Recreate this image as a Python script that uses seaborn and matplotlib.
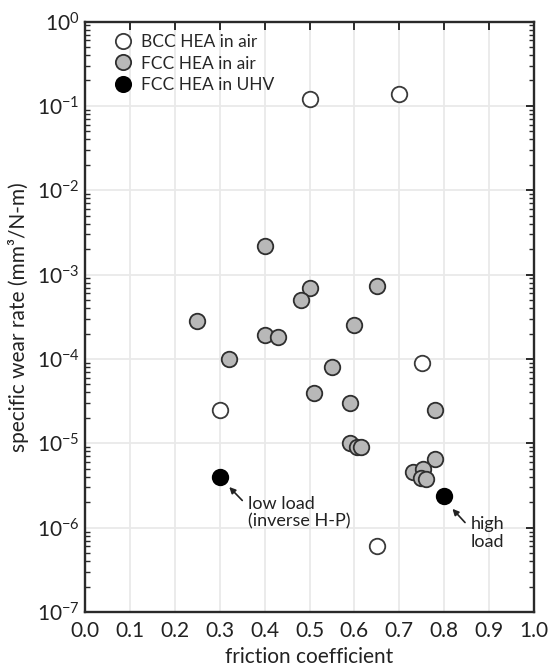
import numpy as np
import pandas as pd
import matplotlib
matplotlib.use("Agg")
import matplotlib.pyplot as plt
import seaborn as sns
from matplotlib.ticker import LogLocator, FixedLocator, NullFormatter
from matplotlib.lines import Line2D

# ---- data ----
categories = ["BCC HEA in air", "FCC HEA in air", "FCC HEA in UHV"]

bcc_air_mu = [0.50, 0.70, 0.75, 0.30, 0.65]
bcc_air_wear = [0.12, 0.14, 9.0e-5, 2.5e-5, 6.0e-7]

fcc_air_mu = [0.40, 0.50, 0.48, 0.65, 0.25, 0.40, 0.43, 0.60, 0.32, 0.55,
              0.51, 0.59, 0.78, 0.59, 0.605, 0.615, 0.78, 0.73, 0.753, 0.748, 0.761]
fcc_air_wear = [2.2e-3, 7.0e-4, 5.0e-4, 7.3e-4, 2.8e-4, 1.9e-4, 1.8e-4, 2.5e-4, 1.0e-4, 8.0e-5,
                3.9e-5, 3.0e-5, 2.5e-5, 1.0e-5, 9.0e-6, 9.0e-6, 6.6e-6, 4.6e-6, 5.0e-6, 3.9e-6, 3.8e-6]

fcc_uhv_mu = [0.30, 0.80]
fcc_uhv_wear = [4.0e-6, 2.35e-6]

x_ticks = [0.0, 0.1, 0.2, 0.3, 0.4, 0.5, 0.6, 0.7, 0.8, 0.9, 1.0]
x_ticklabels = ["0.0", "0.1", "0.2", "0.3", "0.4", "0.5", "0.6", "0.7", "0.8", "0.9", "1.0"]
y_exponents = [0, -1, -2, -3, -4, -5, -6, -7]

df = pd.DataFrame({
    "mu": bcc_air_mu + fcc_air_mu + fcc_uhv_mu,
    "wear": bcc_air_wear + fcc_air_wear + fcc_uhv_wear,
    "cat": [categories[0]] * len(bcc_air_mu) + [categories[1]] * len(fcc_air_mu)
           + [categories[2]] * len(fcc_uhv_mu),
})

# ---- style ----
sns.set_style("white")
plt.rcParams["font.family"] = ["Lato", "DejaVu Sans"]
plt.rcParams["mathtext.fontset"] = "custom"
plt.rcParams["mathtext.rm"] = "Lato"
plt.rcParams["mathtext.it"] = "Lato:italic"
plt.rcParams["mathtext.bf"] = "Lato:bold"

TXT = "#222222"
fig = plt.figure(figsize=(5.48, 6.67), dpi=100)
ax = fig.add_axes([85.4 / 548, 1 - 612 / 667, (533.6 - 85.4) / 548, (612 - 21.5) / 667])

palette = {categories[0]: "white", categories[1]: "#b8b8b8", categories[2]: "black"}
edges = {categories[0]: "#3a3a3a", categories[1]: "#2e2e2e", categories[2]: "black"}

for c in categories:
    sub = df[df["cat"] == c]
    sns.scatterplot(data=sub, x="mu", y="wear", ax=ax, color=palette[c],
                    edgecolor=edges[c], linewidth=1.3, s=125, zorder=3,
                    legend=False)

ax.set_yscale("log")
ax.set_xlim(0.0, 1.0)
ax.set_ylim(1e-7, 1e0)

ax.xaxis.set_major_locator(FixedLocator(x_ticks))
ax.set_xticklabels(x_ticklabels)
ax.yaxis.set_major_locator(FixedLocator([10.0 ** e for e in y_exponents]))
ax.set_yticklabels([rf"$10^{{{e}}}$" for e in y_exponents])
ax.yaxis.set_minor_locator(LogLocator(base=10, subs=np.arange(2, 10), numticks=20))
ax.yaxis.set_minor_formatter(NullFormatter())

ax.grid(True, which="major", color="#e9e9e9", linewidth=1.3, zorder=0)
ax.set_axisbelow(True)

for sp in ax.spines.values():
    sp.set_color("#2a2a2a")
    sp.set_linewidth(1.7)

ax.tick_params(axis="both", which="major", direction="in", length=6, width=1.4,
               top=True, right=True, labelsize=15, colors="#2a2a2a",
               labelcolor=TXT, pad=4)
ax.tick_params(axis="x", which="major", pad=6.5)
ax.tick_params(axis="y", which="minor", direction="in", length=3.5, width=1.0,
               left=True, right=True, colors="#2a2a2a")

ax.set_xlabel("friction coefficient", fontsize=15, color=TXT, labelpad=4)
ax.set_ylabel("specific wear rate (mm³/N-m)", fontsize=15, color=TXT, labelpad=6)

# legend
handles = [Line2D([], [], marker="o", linestyle="none", markersize=11,
                  markerfacecolor=palette[c], markeredgecolor=edges[c],
                  markeredgewidth=1.3) for c in categories]
ax.legend(handles, categories, loc="upper left", frameon=False, fontsize=12.5,
          handletextpad=0.0, labelspacing=0.3, borderaxespad=0.0,
          bbox_to_anchor=(0.03, 0.99))

# annotations
ax.annotate("", xy=(0.321, 3.03e-6), xytext=(0.35, 2.1e-6),
            arrowprops=dict(arrowstyle="-|>", color=TXT, lw=1.2,
                            mutation_scale=9, shrinkA=0, shrinkB=0))
ax.text(0.363, 2.4e-6, "low load\n(inverse H-P)", fontsize=13, color=TXT,
        va="top", ha="left", linespacing=1.15)

ax.annotate("", xy=(0.819, 1.67e-6), xytext=(0.847, 1.15e-6),
            arrowprops=dict(arrowstyle="-|>", color=TXT, lw=1.2,
                            mutation_scale=9, shrinkA=0, shrinkB=0))
ax.text(0.86, 1.38e-6, "high\nload", fontsize=13, color=TXT,
        va="top", ha="left", linespacing=1.15)

fig.savefig("out.png", dpi=100)
